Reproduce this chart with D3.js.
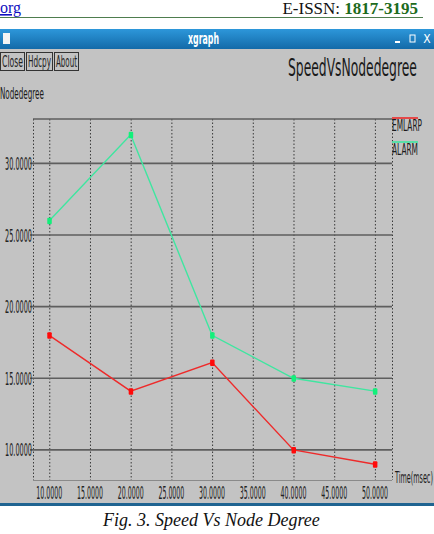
<!DOCTYPE html>
<html><head><meta charset="utf-8">
<script src="https://cdn.jsdelivr.net/npm/d3@7"></script>
<style>html,body{margin:0;padding:0;background:#fff;overflow:hidden}</style>
</head><body>
<script>
const xValues = [10, 20, 30, 40, 50];
const emlarp = [18.0, 14.1, 16.1, 10.0, 9.0];
const alarm = [26.0, 32.0, 18.0, 15.0, 14.1];
const seriesNames = ["EMLARP", "ALARM"];
const xTicks = [10, 15, 20, 25, 30, 35, 40, 45, 50];
const yTicks = [10, 15, 20, 25, 30];
const buttons = ["Close", "Hdcpy", "About"];

const W = 434, H = 534;
const svg = d3.select("body").append("svg").attr("width", W).attr("height", H);
const narrow = "'Liberation Sans Narrow','DejaVu Sans Condensed','Liberation Sans',sans-serif";

// squeeze a text horizontally to a given width, keeping its left edge at x0
function fit(sel, x0, w) {
  sel.each(function () {
    const t = d3.select(this);
    const len = this.getComputedTextLength();
    const s = w / len;
    t.attr("x", 0).attr("transform", `translate(${typeof x0 === "function" ? x0(t.datum()) : x0},0) scale(${s},1)`);
  });
}

// page header
svg.append("rect").attr("width", W).attr("height", H).attr("fill", "#fff");
svg.append("text").attr("x", 0).attr("y", 13).attr("font-family", "'Liberation Serif',serif")
  .attr("font-size", 16).attr("fill", "#1010c0").attr("text-decoration", "underline").text("org");
const isn = svg.append("text").attr("x", 418).attr("y", 14).attr("text-anchor", "end")
  .attr("font-family", "'Liberation Serif',serif").attr("font-size", 17);
isn.append("tspan").attr("fill", "#111").text("E-ISSN: ");
isn.append("tspan").attr("fill", "#1d6b1d").attr("font-weight", "bold").text("1817-3195");
svg.append("line").attr("x1", 0).attr("x2", 423).attr("y1", 17.5).attr("y2", 17.5)
  .attr("stroke", "#4e7d4e").attr("stroke-width", 1.2);

// window
svg.append("rect").attr("x", 0).attr("y", 48).attr("width", W).attr("height", 456).attr("fill", "#c3c3c3");
const grad = svg.append("defs").append("linearGradient").attr("id", "tb").attr("x1", 0).attr("x2", 0).attr("y1", 0).attr("y2", 1);
grad.append("stop").attr("offset", "0").attr("stop-color", "#2d97da");
grad.append("stop").attr("offset", "1").attr("stop-color", "#136aa8");
svg.append("rect").attr("x", 0).attr("y", 29).attr("width", W).attr("height", 20).attr("fill", "url(#tb)");
svg.append("rect").attr("x", 3).attr("y", 33).attr("width", 7).attr("height", 11).attr("fill", "#f4f4f4");
fit(svg.append("text").attr("y", 44).attr("fill", "#fff")
  .attr("font-family", narrow).attr("font-weight", "bold").attr("font-size", 15).text("xgraph"), 188, 31);
svg.append("rect").attr("x", 395).attr("y", 41).attr("width", 5).attr("height", 2).attr("fill", "#fff");
svg.append("rect").attr("x", 410).attr("y", 35).attr("width", 5).attr("height", 7).attr("fill", "none").attr("stroke", "#fff").attr("stroke-width", 1);
svg.append("text").attr("x", 427).attr("y", 43).attr("text-anchor", "middle").attr("fill", "#fff")
  .attr("font-family", narrow).attr("font-size", 12).text("X");
svg.append("rect").attr("x", 0).attr("y", 503).attr("width", W).attr("height", 3).attr("fill", "#1f6491");

// buttons
const btnX = [0, 26, 54], btnW = [24, 26, 24];
buttons.forEach((b, i) => {
  svg.append("rect").attr("x", btnX[i] + 0.5).attr("y", 52.5).attr("width", btnW[i]).attr("height", 18)
    .attr("fill", "#c3c3c3").attr("stroke", "#333").attr("stroke-width", 1);
  fit(svg.append("text").attr("y", 67).attr("font-family", narrow).attr("font-size", 15)
    .attr("fill", "#222").text(b), btnX[i] + 2, btnW[i] - 3);
});

// titles
fit(svg.append("text").attr("y", 76).attr("font-family", narrow).attr("font-size", 24)
  .attr("fill", "#1a1a1a").text("SpeedVsNodedegree"), 288, 129);
fit(svg.append("text").attr("y", 99).attr("font-family", narrow).attr("font-size", 16)
  .attr("fill", "#1a1a1a").text("Nodedegree"), 0, 44);
fit(svg.append("text").attr("y", 483).attr("font-family", narrow).attr("font-size", 16)
  .attr("fill", "#1a1a1a").text("Time(msec)"), 395, 38);

// plot
const L = 33, R = 392, T = 119, B = 480;
const x = d3.scaleLinear().domain([8.0, 52.1]).range([L, R]);
const y = d3.scaleLinear().domain([7.9, 33.1]).range([B, T]);

const g = svg.append("g");
g.selectAll(".vg").data(xTicks).enter().append("line")
  .attr("x1", d => x(d) + 0.5).attr("x2", d => x(d) + 0.5).attr("y1", T).attr("y2", B + 3)
  .attr("stroke", "#3a3a3a").attr("stroke-width", 1).attr("stroke-dasharray", "1.5,2");
[L, R].forEach(v => g.append("line").attr("x1", v + 0.5).attr("x2", v + 0.5).attr("y1", T).attr("y2", B)
  .attr("stroke", "#3a3a3a").attr("stroke-width", 1).attr("stroke-dasharray", "1.5,2"));
g.selectAll(".hg").data(yTicks).enter().append("line")
  .attr("x1", L - 3).attr("x2", R).attr("y1", d => y(d)).attr("y2", d => y(d))
  .attr("stroke", "#5e5e5e").attr("stroke-width", 1.6);
g.append("line").attr("x1", L).attr("x2", R).attr("y1", T).attr("y2", T).attr("stroke", "#5e5e5e").attr("stroke-width", 1.6);
g.append("line").attr("x1", L).attr("x2", R).attr("y1", B + 0.5).attr("y2", B + 0.5).attr("stroke", "#8a8a8a").attr("stroke-width", 1);

// tick labels
fit(g.selectAll(".yl").data(yTicks).enter().append("text")
  .attr("y", d => y(d) + 6.5).attr("font-family", narrow).attr("font-size", 18.5)
  .attr("fill", "#222").text(d => d3.format(".4f")(d)), L - 28, 27);
fit(g.selectAll(".xl").data(xTicks).enter().append("text")
  .attr("y", 499).attr("font-family", narrow).attr("font-size", 18.5)
  .attr("fill", "#222").text(d => d3.format(".4f")(d)), d => x(d) - 13, 26);

// series
const colors = ["#ee2a2a", "#3fe6a0"];
const markerColors = ["#ff0a0a", "#12f07a"];
[emlarp, alarm].forEach((vals, i) => {
  const pts = xValues.map((xv, k) => [xv, vals[k]]);
  const line = d3.line().x(d => x(d[0])).y(d => y(d[1]));
  svg.append("path").attr("d", line(pts)).attr("fill", "none").attr("stroke", colors[i]).attr("stroke-width", 1.4);
  svg.selectAll(".m" + i).data(pts).enter().append("rect")
    .attr("x", d => x(d[0]) - 2).attr("y", d => y(d[1]) - 3).attr("width", 4.5).attr("height", 6.5)
    .attr("rx", 1).attr("fill", markerColors[i]);
});

// legend
seriesNames.forEach((n, i) => {
  const ly = 118 + i * 24;
  svg.append("line").attr("x1", 392).attr("x2", 418).attr("y1", ly).attr("y2", ly)
    .attr("stroke", colors[i]).attr("stroke-width", 1.6);
  fit(svg.append("text").attr("y", ly + 13).attr("font-family", narrow).attr("font-size", 16)
    .attr("fill", "#1a1a1a").text(n), 392, i === 0 ? 30 : 26);
});

// caption
svg.append("text").attr("x", 103).attr("y", 526).attr("font-family", "'Liberation Serif',serif")
  .attr("font-style", "italic").attr("font-size", 18).attr("fill", "#111").text("Fig. 3. Speed Vs Node Degree");
</script>
</body></html>
